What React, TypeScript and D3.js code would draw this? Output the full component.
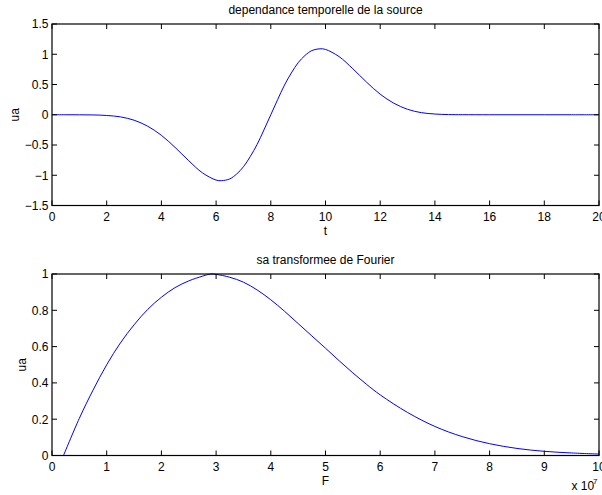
import React from 'react'
import * as d3 from 'd3'

// source time dependence (t, ua)
const timeT = [0, 0.5, 1, 1.5, 2, 2.5, 3, 3.5, 4, 4.5, 5, 5.5, 6, 6.2, 6.5, 6.75, 7, 7.25, 7.5, 7.75, 8, 8.25, 8.5, 8.75, 9, 9.25, 9.5, 9.8, 10, 10.5, 11, 11.5, 12, 12.5, 13, 13.5, 14, 14.5, 15, 16, 17, 18, 19, 20]
const timeUa = [0, 0, -0.001, -0.003, -0.012, -0.035, -0.09, -0.19, -0.34, -0.54, -0.76, -0.96, -1.08, -1.09, -1.06, -0.98, -0.86, -0.69, -0.49, -0.25, 0, 0.25, 0.49, 0.69, 0.86, 0.98, 1.06, 1.09, 1.08, 0.96, 0.76, 0.54, 0.34, 0.19, 0.09, 0.035, 0.012, 0.003, 0.001, 0, 0, 0, 0, 0]

// fourier magnitude (F in units of 1e7, ua)
const freqF = [0.21, 0.5, 0.75, 1, 1.25, 1.5, 1.75, 2, 2.25, 2.5, 2.75, 2.9, 3, 3.25, 3.5, 3.75, 4, 4.25, 4.5, 4.75, 5, 5.25, 5.5, 5.75, 6, 6.5, 7, 7.5, 8, 8.5, 9, 9.5, 10]
const freqUa = [0, 0.205, 0.36, 0.5, 0.62, 0.72, 0.805, 0.872, 0.925, 0.962, 0.988, 1, 0.998, 0.982, 0.955, 0.912, 0.858, 0.795, 0.727, 0.659, 0.591, 0.522, 0.455, 0.392, 0.334, 0.237, 0.16, 0.104, 0.065, 0.039, 0.023, 0.014, 0.008]

const topXTicks = [0, 2, 4, 6, 8, 10, 12, 14, 16, 18, 20]
const topYTicks = [-1.5, -1, -0.5, 0, 0.5, 1, 1.5]
const botXTicks = [0, 1, 2, 3, 4, 5, 6, 7, 8, 9, 10]
const botYTicks = [0, 0.2, 0.4, 0.6, 0.8, 1]

const font = '"Liberation Sans", Arial, Helvetica, sans-serif'
const fmt = (v: number) => String(v).replace('-', '\u2212')

type PanelProps = {
	xs: number[]
	ys: number[]
	xDomain: [number, number]
	yDomain: [number, number]
	xTicks: number[]
	yTicks: number[]
	top: number
	bottom: number
	title: string
	xLabel: string
	yLabelX: number
}

const Panel = ({ xs, ys, xDomain, yDomain, xTicks, yTicks, top, bottom, title, xLabel, yLabelX }: PanelProps) => {
	const left = 52,
		right = 599
	const x = d3.scaleLinear().domain(xDomain).range([left, right])
	const y = d3.scaleLinear().domain(yDomain).range([bottom, top])
	const pts: [number, number][] = xs.map((d, i) => [d, ys[i]])
	const line = d3
		.line<[number, number]>()
		.x((d) => x(d[0]))
		.y((d) => y(d[1]))
		.curve(d3.curveCatmullRom.alpha(0.5))
	const tl = 5
	return (
		<g>
			<text x={(left + right) / 2} y={top - 10.5} textAnchor="middle" fontSize={12}>
				{title}
			</text>
			<path d={line(pts) || ''} fill="none" stroke="#0000ff" strokeWidth={1} />
			{xTicks.map((t) => (
				<g key={'x' + t}>
					<line x1={x(t)} x2={x(t)} y1={bottom} y2={bottom - tl} stroke="#000" />
					<line x1={x(t)} x2={x(t)} y1={top} y2={top + tl} stroke="#000" />
					<text x={x(t)} y={bottom + 15.5} textAnchor="middle" fontSize={12}>
						{t}
					</text>
				</g>
			))}
			{yTicks.map((t) => (
				<g key={'y' + t}>
					<line x1={left} x2={left + tl} y1={y(t)} y2={y(t)} stroke="#000" />
					<line x1={right} x2={right - tl} y1={y(t)} y2={y(t)} stroke="#000" />
					<text x={48.5} y={y(t) + 4.3} textAnchor="end" fontSize={12}>
						{fmt(t)}
					</text>
				</g>
			))}
			<rect x={left} y={top} width={right - left} height={bottom - top} fill="none" stroke="#000" strokeWidth={1.2} />
			<text x={(left + right) / 2} y={bottom + 29.5} textAnchor="middle" fontSize={12}>
				{xLabel}
			</text>
			<text
				transform={`translate(${yLabelX},${(top + bottom) / 2}) rotate(-90)`}
				textAnchor="middle"
				fontSize={12}
			>
				ua
			</text>
		</g>
	)
}

const App = () => {
	return (
		<svg
			width={602}
			height={495}
			style={{ position: 'absolute', left: 0, top: 0, background: '#fff' }}
			fontFamily={font}
			fill="#000"
		>
			<Panel
				xs={timeT}
				ys={timeUa}
				xDomain={[0, 20]}
				yDomain={[-1.5, 1.5]}
				xTicks={topXTicks}
				yTicks={topYTicks}
				top={24}
				bottom={205.5}
				title="dependance temporelle de la source"
				xLabel="t"
				yLabelX={19}
			/>
			<Panel
				xs={freqF}
				ys={freqUa}
				xDomain={[0, 10]}
				yDomain={[0, 1]}
				xTicks={botXTicks}
				yTicks={botYTicks}
				top={274}
				bottom={455.5}
				title="sa transformee de Fourier"
				xLabel="F"
				yLabelX={26}
			/>
			<text x={571.5} y={490} fontSize={12}>
				x 10
			</text>
			<text x={593} y={484} fontSize={8}>
				7
			</text>
		</svg>
	)
}

export default App
